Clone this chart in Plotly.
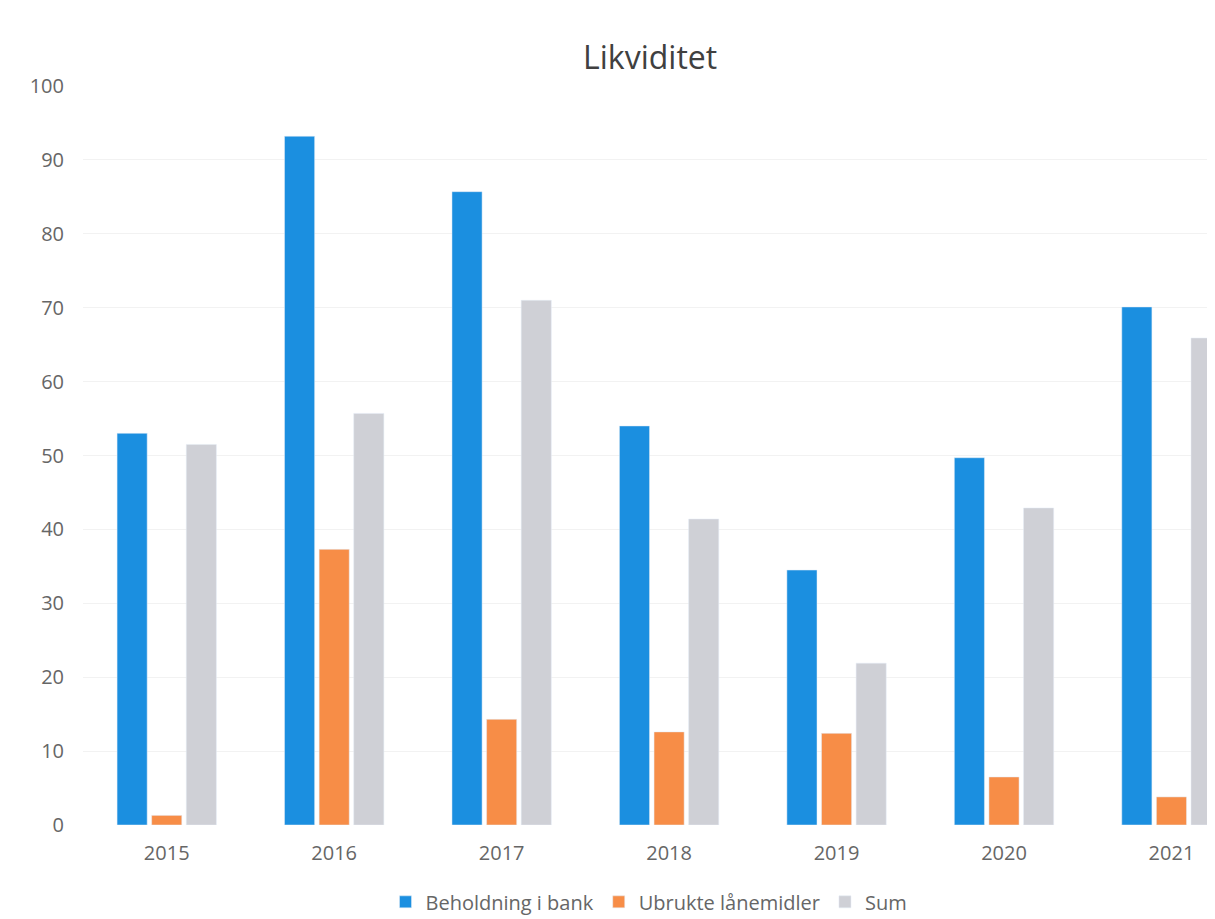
import plotly.graph_objects as go

years = ["2015", "2016", "2017", "2018", "2019", "2020", "2021"]
beholdning = [53.0, 93.2, 85.7, 54.0, 34.5, 49.7, 70.1]
ubrukte = [1.3, 37.3, 14.3, 12.6, 12.4, 6.5, 3.8]
sum_vals = [51.5, 55.7, 71.0, 41.4, 21.9, 42.9, 65.9]

font_family = "Open Sans, Liberation Sans, sans-serif"

fig = go.Figure()
fig.add_trace(go.Bar(x=years, y=beholdning, name="Beholdning i bank", marker_color="#1b8fe0"))
fig.add_trace(go.Bar(x=years, y=ubrukte, name="Ubrukte lånemidler", marker_color="#f78d47"))
fig.add_trace(go.Bar(x=years, y=sum_vals, name="Sum", marker_color="#cfd0d6"))

fig.update_layout(
    width=1207, height=911,
    paper_bgcolor="white", plot_bgcolor="white",
    margin=dict(l=75, r=0, t=78, b=94, autoexpand=False),
    barmode="group", bargap=0.38, bargroupgap=0.13,
    title=dict(text="Likviditet", x=0.532, xanchor="center", y=0.945, yanchor="middle",
               font=dict(family=font_family, size=32, color="#404040")),
    legend=dict(orientation="h", x=0.50, xanchor="center", y=-0.104, yanchor="middle",
                font=dict(family=font_family, size=20, color="#666666"),
                traceorder="normal", itemwidth=30),
    font=dict(family=font_family, color="#666666"),
)
fig.update_xaxes(range=[-0.5, 6.26], showgrid=False, showline=False, ticks="",
                 tickfont=dict(size=20, color="#666666"), ticklabelstandoff=14)
fig.update_yaxes(range=[0, 100], dtick=10, showgrid=True, gridcolor="#f2f2f2", gridwidth=1,
                 zeroline=False, showline=False, ticks="",
                 tickfont=dict(size=20, color="#666666"), ticklabelstandoff=18)

fig.write_html("out.html")
